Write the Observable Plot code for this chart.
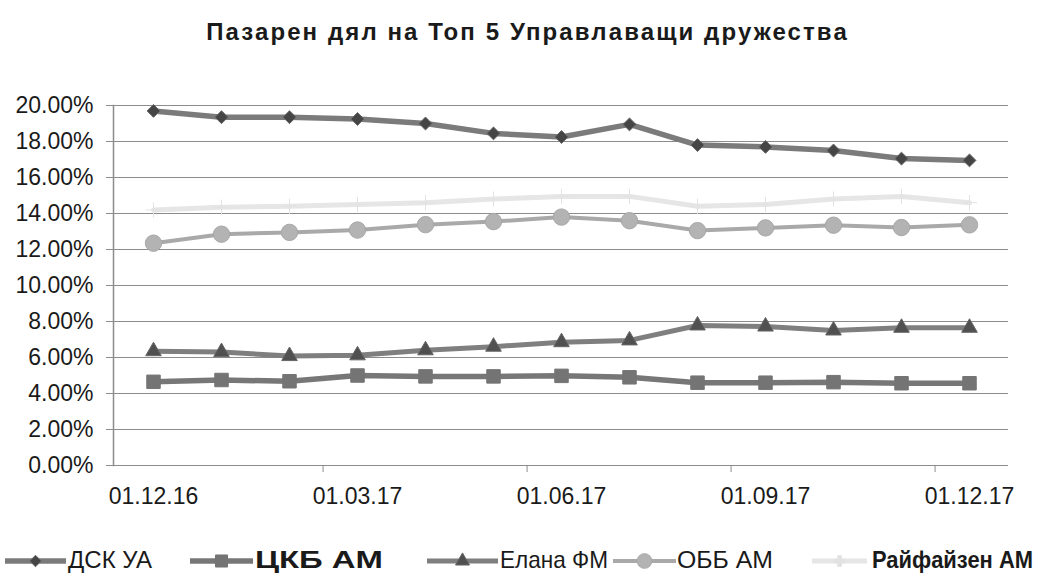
<!DOCTYPE html>
<html>
<head>
<meta charset="utf-8">
<script src="https://cdn.jsdelivr.net/npm/d3@7"></script>
<script src="https://cdn.jsdelivr.net/npm/@observablehq/plot@0.6"></script>
<style>
  html, body { margin: 0; padding: 0; background: #fff; }
  #wrap { position: relative; width: 1055px; height: 585px; font-family: "Liberation Sans", Arial, sans-serif; }
  #title { position: absolute; top: 18px; left: 0; width: 1055px; text-align: center; font-family: "Liberation Sans", Arial, sans-serif; font-weight: bold; font-size: 24px; line-height: 27px; letter-spacing: 2.1px; color: #1a1a1a; }
  #chart { position: absolute; top: 70px; left: 0; }
  #legend { position: absolute; top: 525px; left: 0; }
</style>
</head>
<body>
<div id="wrap">
  <div id="title">Пазарен дял на Топ 5 Управлаващи дружества</div>
  <div id="chart"></div>
  <svg id="legend" width="1055" height="60"></svg>
</div>
<script>
// ---- data ----
const dates = ["01.12.16","01.01.17","01.02.17","01.03.17","01.04.17","01.05.17","01.06.17","01.07.17","01.08.17","01.09.17","01.10.17","01.11.17","01.12.17"];
const labeledDates = ["01.12.16","01.03.17","01.06.17","01.09.17","01.12.17"];
const yTicks = [0, 2, 4, 6, 8, 10, 12, 14, 16, 18, 20];
const seriesNames = ["ДСК УА", "ЦКБ АМ", "Елана ФМ", "ОББ АМ", "Райфайзен АМ"];
const dskUA   = [19.70, 19.35, 19.35, 19.25, 19.00, 18.45, 18.25, 18.95, 17.80, 17.70, 17.50, 17.05, 16.95];
const ckbAM   = [4.65, 4.75, 4.68, 5.00, 4.95, 4.95, 4.98, 4.90, 4.60, 4.60, 4.63, 4.57, 4.57];
const elanaFM = [6.35, 6.30, 6.08, 6.12, 6.40, 6.60, 6.85, 6.95, 7.78, 7.72, 7.50, 7.65, 7.65];
const obbAM   = [12.35, 12.85, 12.95, 13.08, 13.38, 13.55, 13.80, 13.60, 13.05, 13.20, 13.35, 13.22, 13.37];
const raifAM  = [14.20, 14.35, 14.40, 14.50, 14.60, 14.80, 14.95, 14.95, 14.40, 14.50, 14.80, 14.95, 14.60];
const seriesValues = [dskUA, ckbAM, elanaFM, obbAM, raifAM];

// ---- styles ----
const styles = {
  "ДСК УА":       {line: "#7b7b7b", width: 5.5, symbol: "diamond2", r: 5.8, fill: "#454545", mstroke: "#666666"},
  "ЦКБ АМ":       {line: "#777777", width: 5.5, symbol: "square",   r: 7.6, fill: "#747474", mstroke: "#747474"},
  "Елана ФМ":     {line: "#7f7f7f", width: 5,   symbol: "triangle", r: 5.8, fill: "#505050", mstroke: "#666666"},
  "ОББ АМ":       {line: "#a9a9a9", width: 4,   symbol: "circle",   r: 8.2, fill: "#b3b3b3", mstroke: "#a8a8a8"},
  "Райфайзен АМ": {line: "#e6e6e6", width: 5,   symbol: "plus",     r: 5,   fill: "#e2e2e2", mstroke: "#e2e2e2"}
};
const symbolTypes = {diamond2: d3.symbolDiamond2, square: d3.symbolSquare, triangle: d3.symbolTriangle, circle: d3.symbolCircle, plus: d3.symbolCross};

const rows = [];
seriesNames.forEach((name, i) => {
  seriesValues[i].forEach((v, j) => rows.push({series: name, date: dates[j], value: v}));
});

const W = 1055, H = 455, mL = 113, mR = 47, mT = 35, mB = 60;
const step = (W - mL - mR) / dates.length;

const drawOrder = ["Райфайзен АМ", "ОББ АМ", "ДСК УА", "Елана ФМ", "ЦКБ АМ"];
const seriesMarks = [];
for (const name of drawOrder) {
  const s = styles[name];
  const d = rows.filter(r => r.series === name);
  seriesMarks.push(Plot.line(d, {x: "date", y: "value", stroke: s.line, strokeWidth: s.width, curve: "linear"}));
  seriesMarks.push(Plot.dot(d, {x: "date", y: "value", symbol: s.symbol, r: s.r, fill: s.fill, stroke: s.mstroke, strokeWidth: 1}));
}

const chart = Plot.plot({
  width: W, height: H,
  marginLeft: mL, marginRight: mR, marginTop: mT, marginBottom: mB,
  style: {fontFamily: "'Liberation Sans', Arial, sans-serif", color: "#1a1a1a", background: "#fff"},
  x: {type: "band", domain: dates, padding: 0},
  y: {domain: [0, 20]},
  symbol: {type: "identity"},
  marks: [
    Plot.gridY(yTicks, {stroke: "#8c8c8c", strokeOpacity: 1, strokeWidth: 1}),
    Plot.frame({anchor: "left", stroke: "#8c8c8c", strokeWidth: 1.5}),
    Plot.axisY({ticks: yTicks, tickFormat: d => d.toFixed(2) + "%", tickSize: 7, tickPadding: 13, fontSize: 23, stroke: "#8c8c8c", label: null}),
    Plot.axisX({ticks: labeledDates.slice(1), tickSize: 7, text: null, dx: -step / 2, stroke: "#8c8c8c", label: null}),
    Plot.axisX({ticks: labeledDates, tickSize: 0, tickPadding: 22, fontSize: 23, label: null}),
    ...seriesMarks
  ]
});
document.getElementById("chart").appendChild(chart);

// ---- legend ----
const legendItems = [
  {name: "ДСК УА",       sx1: 5,   sx2: 66,  tx: 68,  tw: 84,  weight: "normal"},
  {name: "ЦКБ АМ",       sx1: 190, sx2: 253, tx: 255, tw: 128, weight: "bold"},
  {name: "Елана ФМ",     sx1: 427, sx2: 498, tx: 500, tw: 108, weight: "normal"},
  {name: "ОББ АМ",       sx1: 613, sx2: 676, tx: 677, tw: 96,  weight: "normal"},
  {name: "Райфайзен АМ", sx1: 812, sx2: 867, tx: 872, tw: 161, weight: "bold"}
];
const leg = d3.select("#legend");
for (const it of legendItems) {
  const s = styles[it.name];
  const cy = 36;
  leg.append("line").attr("x1", it.sx1).attr("x2", it.sx2).attr("y1", cy).attr("y2", cy)
    .attr("stroke", s.line).attr("stroke-width", s.width);
  leg.append("path")
    .attr("transform", `translate(${(it.sx1 + it.sx2) / 2},${cy})`)
    .attr("d", d3.symbol(symbolTypes[s.symbol], Math.PI * s.r * s.r * 0.8)())
    .attr("fill", s.fill).attr("stroke", s.mstroke);
  leg.append("text").attr("x", it.tx).attr("y", 43)
    .attr("font-family", "'Liberation Sans', Arial, sans-serif")
    .attr("font-size", 24).attr("font-weight", it.weight).attr("fill", "#1a1a1a")
    .attr("textLength", it.tw).attr("lengthAdjust", "spacingAndGlyphs")
    .text(it.name);
}
</script>
</body>
</html>
